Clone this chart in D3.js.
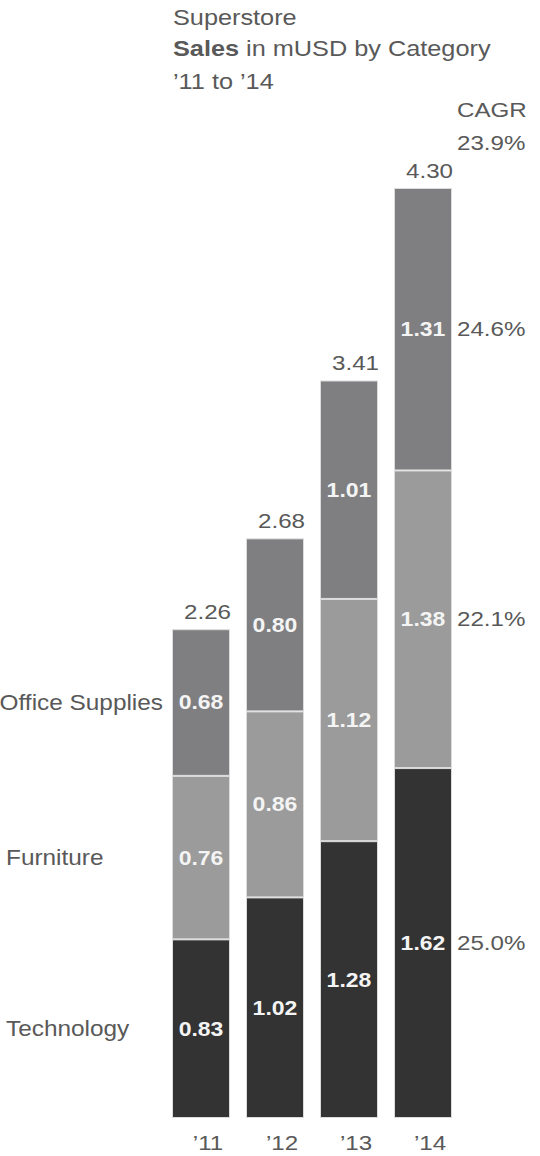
<!DOCTYPE html>
<html>
<head>
<meta charset="utf-8">
<script src="https://cdn.jsdelivr.net/npm/d3@7"></script>
<style>
  html, body { margin: 0; padding: 0; background: #fff; }
  svg { display: block; }
  text { font-family: "Liberation Sans", Arial, sans-serif; }
</style>
</head>
<body>
<svg id="chart" width="540" height="1156"></svg>
<script>
// Superstore sales in mUSD by category, 2011–2014
const years = ["’11", "’12", "’13", "’14"];
const categories = ["Technology", "Furniture", "Office Supplies"]; // bottom to top
const technology = [0.826, 1.02, 1.28, 1.618];
const furniture = [0.756, 0.86, 1.12, 1.376];
const officeSupplies = [0.678, 0.80, 1.01, 1.306];
const cagrByCategory = ["25.0%", "22.1%", "24.6%"];
const cagrTotal = "23.9%";

const colors = { "Technology": "#333333", "Furniture": "#9a9b9a", "Office Supplies": "#7f7f81" };
const textGray = "#595959";
const SX = 1.15; // horizontal text stretch

const rows = years.map((y, i) => ({
  year: y,
  "Technology": technology[i],
  "Furniture": furniture[i],
  "Office Supplies": officeSupplies[i]
}));
const totals = rows.map(r => categories.reduce((s, k) => s + r[k], 0));

const svg = d3.select("#chart");

const x = d3.scaleBand().domain(years).range([172, 452]).paddingInner(0.216).paddingOuter(0);
const y = d3.scaleLinear().domain([0, 4.30]).range([1118, 188]);

const stack = d3.stack().keys(categories)(rows);

// positioned, horizontally stretched text
function label(g, px, py, str, opts = {}) {
  return g.append("text")
    .attr("transform", `translate(${px},${py}) scale(${SX},1)`)
    .attr("text-anchor", opts.anchor || "start")
    .attr("dominant-baseline", opts.baseline || "auto")
    .attr("font-size", opts.size || 21)
    .attr("font-weight", opts.weight || "normal")
    .attr("fill", opts.fill || textGray)
    .text(str);
}

// stacked bars
const layers = svg.append("g").selectAll("g").data(stack).join("g")
  .attr("fill", d => colors[d.key]);

layers.selectAll("rect").data(d => d).join("rect")
  .attr("x", d => x(d.data.year) + 0.5)
  .attr("width", x.bandwidth() - 1)
  .attr("y", d => y(d[1]) + 0.5)
  .attr("height", d => y(d[0]) - y(d[1]) - 1)
  .attr("stroke", "#dcdcdc")
  .attr("stroke-width", 1);

// segment value labels
const segLabels = svg.append("g");
stack.forEach(layer => {
  layer.forEach(d => {
    const v = d[1] - d[0];
    label(segLabels, x(d.data.year) + x.bandwidth() / 2, (y(d[0]) + y(d[1])) / 2, v.toFixed(2),
      { anchor: "middle", baseline: "central", size: 20, weight: "bold", fill: "#f4f4f4" });
  });
});

// totals above bars
const totG = svg.append("g");
rows.forEach((r, i) => {
  label(totG, x(r.year) + x.bandwidth() + 1, y(totals[i]) - 10, totals[i].toFixed(2),
    { anchor: "end", size: 21 });
});

// category labels next to the first bar
const catG = svg.append("g");
const first = stack.map(layer => layer[0]);
const gutterRight = x(years[0]) - 9;
categories.forEach((c, i) => {
  const d = first[i];
  const cy = (y(d[0]) + y(d[1])) / 2;
  const t = label(catG, 6, cy, c, { baseline: "central", size: 21.2 });
  const w = t.node().getComputedTextLength() * SX;
  if (6 + w > gutterRight) {
    t.attr("text-anchor", "end")
     .attr("transform", `translate(${gutterRight},${cy}) scale(${SX},1)`);
  }
});

// CAGR column to the right of the last bar
const cagrX = x(years[years.length - 1]) + x.bandwidth() + 5;
const cagrG = svg.append("g");
const last = stack.map(layer => layer[layer.length - 1]);
categories.forEach((c, i) => {
  const d = last[i];
  label(cagrG, cagrX, (y(d[0]) + y(d[1])) / 2, cagrByCategory[i], { baseline: "central", size: 21 });
});
label(cagrG, cagrX, 117, "CAGR", { size: 21 });
label(cagrG, cagrX, 150, cagrTotal, { size: 21 });

// year axis
const axis = svg.append("g")
  .attr("transform", `translate(7,${y(0)})`)
  .call(d3.axisBottom(x).tickSize(0).tickPadding(0));
axis.select(".domain").remove();
axis.selectAll("text")
  .attr("font-family", "Liberation Sans, Arial, sans-serif")
  .attr("font-size", 21)
  .attr("fill", textGray)
  .attr("dy", null)
  .attr("x", 0)
  .attr("y", 32)
  .attr("transform", `scale(${SX},1)`);

// title
const titleG = svg.append("g");
label(titleG, 173, 25, "Superstore", { size: 22 });
const t2 = label(titleG, 173, 56, "", { size: 22 });
t2.append("tspan").attr("font-weight", "bold").text("Sales");
t2.append("tspan").text(" in mUSD by Category");
label(titleG, 173, 89, "’11 to ’14", { size: 22 });
</script>
</body>
</html>
